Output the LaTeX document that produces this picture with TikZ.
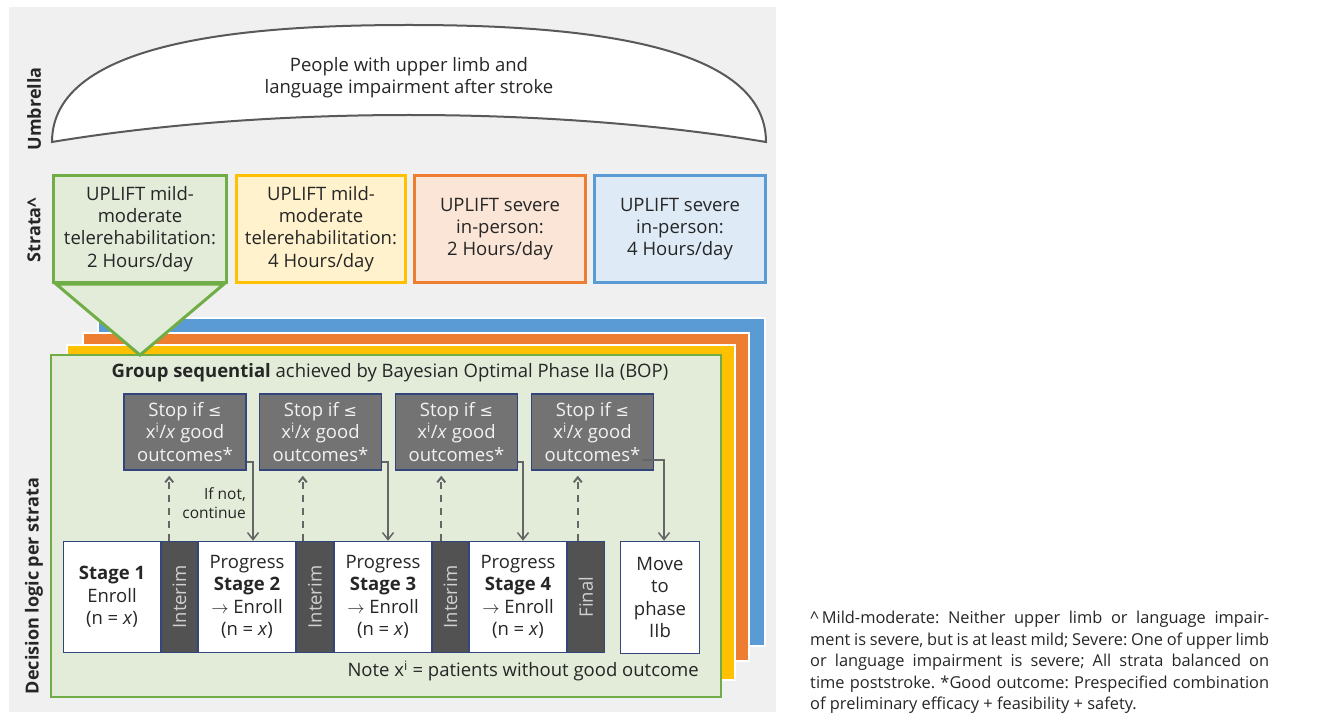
\documentclass[tikz,border=0pt]{standalone}
\usepackage{fontspec}
\setmainfont{Open Sans}
\newfontfamily\symfnt{DejaVu Sans}
\usetikzlibrary{arrows.meta,calc}
\definecolor{txt}{HTML}{262626}
\definecolor{panelbg}{HTML}{F0F0F0}
\definecolor{umbline}{HTML}{595959}
\definecolor{grn}{HTML}{70AD47}
\definecolor{grnfill}{HTML}{E2ECD9}
\definecolor{ylw}{HTML}{FFC000}
\definecolor{ylwfill}{HTML}{FFF2CC}
\definecolor{org}{HTML}{ED7D31}
\definecolor{orgfill}{HTML}{FBE5D6}
\definecolor{blu}{HTML}{5B9BD5}
\definecolor{blufill}{HTML}{DEEBF7}
\definecolor{navy}{HTML}{33457A}
\definecolor{stopgray}{HTML}{737373}
\definecolor{intgray}{HTML}{525252}
\definecolor{arrgray}{HTML}{666666}
\definecolor{lighttxt}{HTML}{F2F2F2}
\definecolor{inttxt}{HTML}{D0D0D0}
\newcommand{\lesym}{{\symfnt\fontsize{16}{16}\selectfont ≤}}
\begin{document}
\frenchspacing
\begin{tikzpicture}[x=1pt,y=-1pt,
  every node/.style={inner sep=0pt, text=txt},
  mainfont/.style={font=\fontsize{18.5}{22.3}\selectfont},
  sidelabel/.style={rotate=90, font=\fontsize{18}{22}\selectfont\bfseries},
  stratabox/.style={mainfont, line width=3pt, minimum height=107, align=center},
  stopbox/.style={mainfont, draw=navy, fill=stopgray, line width=1.5pt, minimum width=122, minimum height=76, align=center, text=lighttxt},
  stagebox/.style={mainfont, draw=navy, fill=white, line width=1.5pt, minimum width=97, minimum height=111, align=center},
  interimbox/.style={mainfont, draw=navy, fill=intgray, line width=1.5pt, minimum width=37, minimum height=111, text=inttxt},
  solidarrow/.style={draw=arrgray, line width=1.5pt, -{Straight Barb[length=7pt,width=11pt]}},
  dasharrow/.style={draw=arrgray, line width=2pt, dash pattern=on 7pt off 6pt, -{Straight Barb[length=5pt,width=8pt]}, shorten >=5pt}
]
\useasboundingbox (0,0) rectangle (1337,719);
% grey panel
\fill[panelbg] (9,7) rectangle (776,712);

% umbrella
\draw[draw=umbline, line width=2pt, fill=white]
  (52,142) .. controls (52,40) and (250,25) .. (409,25)
  .. controls (568,25) and (766,40) .. (766,142)
  .. controls (550,106) and (268,106) .. (52,142) -- cycle;
\node[mainfont, align=center] (umb) at (409,78) {People with upper limb and\\language impairment after stroke};

% side labels
\node[sidelabel] (lu) at (34,109) {Umbrella};
\node[sidelabel] (ls) at (34,230) {Strata\textasciicircum};
\node[sidelabel] (ld) at (34,586) {Decision logic per strata};

% strata
\node[stratabox, draw=grn, fill=grnfill, minimum width=173] (st1) at (140,229) {UPLIFT mild-\\moderate\\telerehabilitation:\\2 Hours/day};
\node[stratabox, draw=ylw, fill=ylwfill, minimum width=169] (st2) at (321,229) {UPLIFT mild-\\moderate\\telerehabilitation:\\4 Hours/day};
\node[stratabox, draw=org, fill=orgfill, minimum width=171] (st3) at (500,229) {UPLIFT severe\\in-person:\\2 Hours/day};
\node[stratabox, draw=blu, fill=blufill, minimum width=171] (st4) at (680,229) {UPLIFT severe\\in-person:\\4 Hours/day};

% stacked panels
\path[draw=white, line width=1.5pt, fill=blu] (98,318) rectangle (765,646);
\path[draw=white, line width=1.5pt, fill=org] (83,333) rectangle (749,661);
\path[draw=white, line width=1.5pt, fill=ylw] (67,345) rectangle (735,680);
\path[draw=grn, line width=2pt, fill=grnfill] (51,355) rectangle (721,697);

% funnel triangle
\coordinate (apex) at (140,355);
\draw[draw=grn, line width=3pt, fill=grnfill, line join=miter]
  ([xshift=4pt]st1.south west) -- ([xshift=-4pt]st1.south east) -- (apex) -- cycle;

% title
\node[mainfont] (title) at (390,373) {\textbf{Group sequential} achieved by Bayesian Optimal Phase IIa (BOP)};

% stop boxes
\node[stopbox] (sA) at (185,432) {Stop if \lesym\\x\textsuperscript{i}/\textit{x} good\\outcomes*};
\node[stopbox] (sB) at (320.5,432) {Stop if \lesym\\x\textsuperscript{i}/\textit{x} good\\outcomes*};
\node[stopbox] (sC) at (456.5,432) {Stop if \lesym\\x\textsuperscript{i}/\textit{x} good\\outcomes*};
\node[stopbox] (sD) at (592.5,432) {Stop if \lesym\\x\textsuperscript{i}/\textit{x} good\\outcomes*};

% stage row
\node[stagebox] (s1) at (112,597) {\textbf{Stage 1}\\Enroll\\(n = \textit{x})};
\node[interimbox] (i1) at (179.5,597) {\rotatebox{90}{Interim}};
\node[stagebox] (s2) at (247,597) {Progress\\\textbf{Stage 2}\\$\rightarrow$ Enroll\\(n = \textit{x})};
\node[interimbox] (i2) at (315,597) {\rotatebox{90}{Interim}};
\node[stagebox] (s3) at (383,597) {Progress\\\textbf{Stage 3}\\$\rightarrow$ Enroll\\(n = \textit{x})};
\node[interimbox] (i3) at (450.5,597) {\rotatebox{90}{Interim}};
\node[stagebox] (s4) at (518,597) {Progress\\\textbf{Stage 4}\\$\rightarrow$ Enroll\\(n = \textit{x})};
\node[interimbox] (fin) at (586,597) {\rotatebox{90}{Final}};
\node[stagebox, minimum width=79, minimum height=112] (mv) at (660,597.5) {Move\\to\\phase\\IIb};

% dashed up arrows
\coordinate (d1) at ([xshift=9pt]i1.north west);
\coordinate (d2) at ([xshift=7pt]i2.north west);
\coordinate (d3) at ([xshift=10pt]i3.north west);
\coordinate (d4) at ([xshift=11pt]fin.north west);
\draw[dasharrow] (d1) -- (d1 |- sA.south);
\draw[dasharrow] (d2) -- (d2 |- sB.south);
\draw[dasharrow] (d3) -- (d3 |- sC.south);
\draw[dasharrow] (d4) -- (d4 |- sD.south);

% solid down arrows
\draw[solidarrow] ([yshift=9pt]sA.south east) -| ([xshift=6pt]s2.north);
\draw[solidarrow] ([yshift=9pt]sB.south east) -| ([xshift=5pt]s3.north);
\draw[solidarrow] ([yshift=9pt]sC.south east) -| ([xshift=5pt]s4.north);
\draw[solidarrow] ([xshift=-12pt,yshift=11pt]sD.south east) -| ([xshift=4pt]mv.north);

% if not
\node[align=right, anchor=east, font=\fontsize{15.5}{19}\selectfont] (ifnot) at (246,503) {If not,\\continue};

% note
\node[mainfont, anchor=east] (note) at (699,671) {Note x\textsuperscript{i} = patients without good outcome};

% footnote
\node[anchor=north west, text width=459pt, align=justify, font=\fontsize{16.4}{21.5}\selectfont] (foot) at (810,611)
{\hyphenpenalty=10000 \textasciicircum\,Mild-moderate: Neither upper limb or language impair-\linebreak ment is severe, but is at least mild; Severe: One of upper limb\linebreak or language impairment is severe; All strata balanced on\linebreak time poststroke. *Good outcome: Prespecified combination\linebreak of preliminary efficacy + feasibility + safety.};
\end{tikzpicture}
\end{document}
